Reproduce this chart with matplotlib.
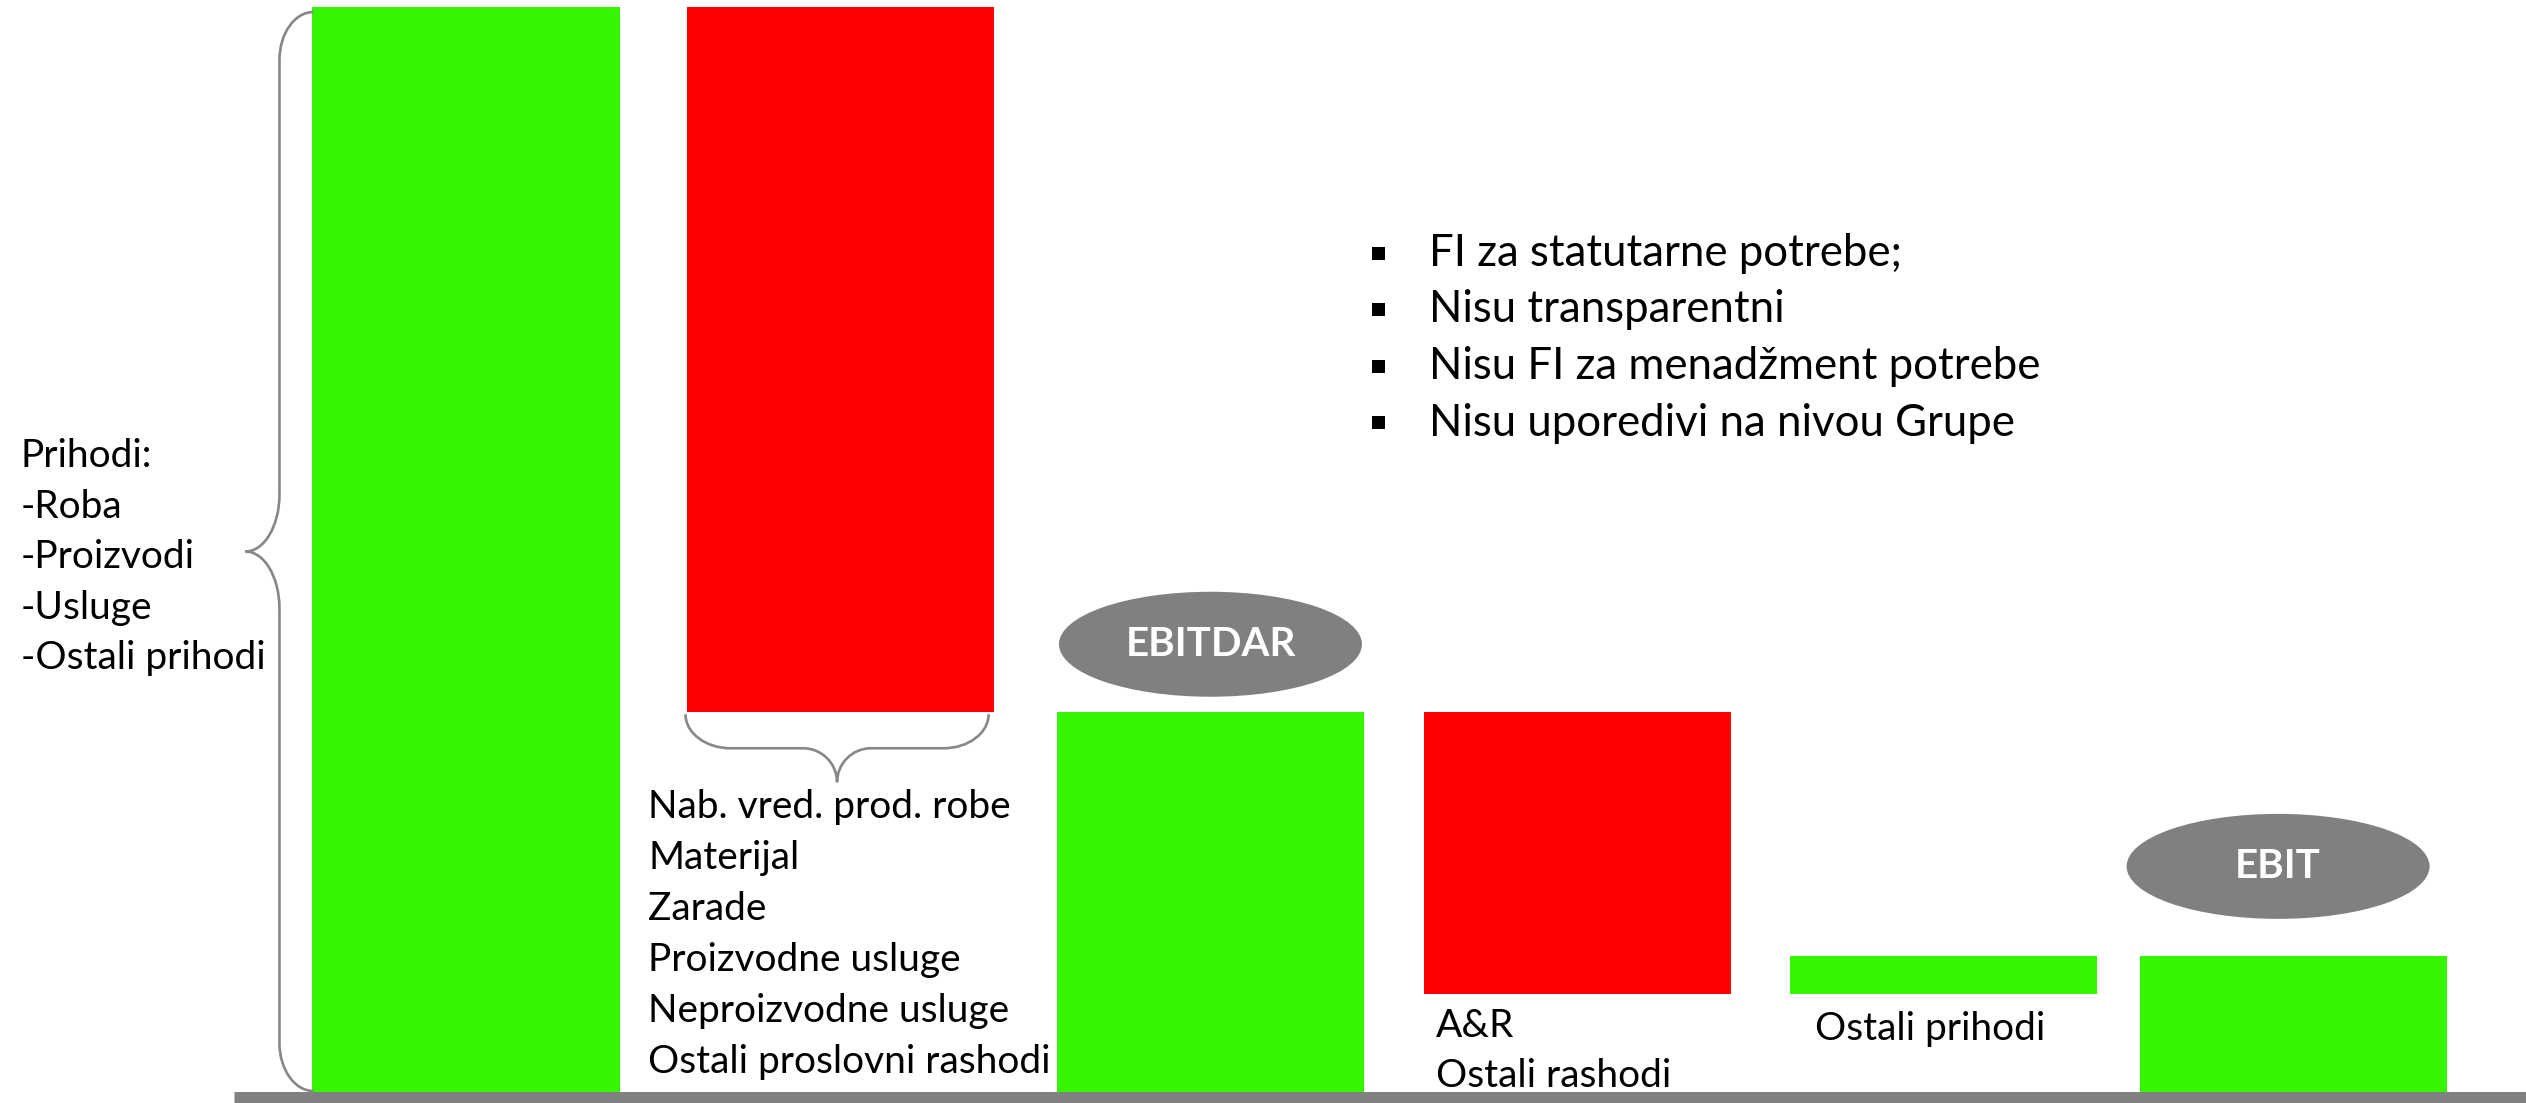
import numpy as np
import matplotlib
matplotlib.use("Agg")
import matplotlib.pyplot as plt
from matplotlib.path import Path
from matplotlib.patches import PathPatch, Ellipse, Rectangle
from matplotlib.transforms import IdentityTransform

plt.rcParams['font.family'] = ['Lato', 'DejaVu Sans']

# waterfall, revenue = 100
steps = ['Prihodi', 'Poslovni rashodi', 'EBITDAR', 'A&R', 'Ostali prihodi', 'EBIT']
kinds = ['total', 'delta', 'subtotal', 'delta', 'delta', 'subtotal']
values = [100, -65, 35, -26, 3.5, 12.5]

rev_items = ['Prihodi:', '-Roba', '-Proizvodi', '-Usluge', '-Ostali prihodi']
cost_items = ['Nab. vred. prod. robe', 'Materijal', 'Zarade', 'Proizvodne usluge',
              'Neproizvodne usluge', 'Ostali proslovni rashodi']
ar_items = ['A&R', 'Ostali rashodi']
other_items = ['Ostali prihodi']
notes = ['FI za statutarne potrebe;', 'Nisu transparentni',
         'Nisu FI za menadžment potrebe', 'Nisu uporedivi na nivou Grupe']
badges = {2: 'EBITDAR', 5: 'EBIT'}

GREEN = '#35F500'
RED = '#FF0000'
GRAY = '#808080'
BRACE = '#878787'

W, H = 2526, 1103
fig = plt.figure(figsize=(W / 100, H / 100), dpi=100)
ax = fig.add_axes([0, 0, 1, 1])
ax.set_xlim(-1.2732, 5.6284)
ax.set_ylim(-1.014, 100.645)
ax.axis('off')

# bar layout (slightly uneven spacing as in the slide)
x_pos = np.array([0, 1.022, 2.034, 3.036, 4.036, 4.992])
bw = 0.839

bottoms, heights, colors = [], [], []
running = 0
for k, v in zip(kinds, values):
    if k == 'delta':
        bottoms.append(running + min(v, 0))
        heights.append(abs(v))
        running += v
    else:
        running = v
        bottoms.append(0)
        heights.append(v)
    colors.append(GREEN if v > 0 else RED)

bars = ax.bar(x_pos, heights, bottom=bottoms, width=bw, color=colors, linewidth=0, zorder=2)

# base line
ax.axhline(-0.507, xmin=234 / W, color=GRAY, lw=7.9, solid_capstyle='butt', zorder=3)

fig.canvas.draw()
to_px = ax.transData.transform

K = 0.5523


def brace(origin, u, v, L, D, e, c):
    h, m = D / 2, L / 2
    st = [(0, 0),
          (0, K * h), (e * (1 - K), h), (e, h),
          (m - c, h),
          (m - c * (1 - K), h), (m, D - K * h), (m, D),
          (m, D - K * h), (m + c * (1 - K), h), (m + c, h),
          (L - e, h),
          (L - e * (1 - K), h), (L, K * h), (L, 0)]
    codes = [Path.MOVETO] + [Path.CURVE4] * 3 + [Path.LINETO] + [Path.CURVE4] * 6 \
        + [Path.LINETO] + [Path.CURVE4] * 3
    o, u, v = np.array(origin), np.array(u), np.array(v)
    pts = [o + s * u + t * v for s, t in st]
    fig.add_artist(PathPatch(Path(pts, codes), fill=False, edgecolor=BRACE, lw=1.9,
                             transform=IdentityTransform(), zorder=4))


# brace left of revenue bar
x0 = x_pos[0] - bw / 2
lx, ty = to_px((x0, bottoms[0] + heights[0]))
_, by = to_px((x0, 0))
brace((lx + 1, ty - 5), (0, -1), (-1, 0), (ty - 5) - (by + 1), 68, 48, 57)

# brace under cost bar
cl, cb = to_px((x_pos[1] - bw / 2, bottoms[1]))
cr, _ = to_px((x_pos[1] + bw / 2, bottoms[1]))
brace((cl - 1, cb - 2), (1, 0), (0, -1), (cr - 5) - (cl - 1), 68, 45, 34)

# grey badges above subtotal bars
badge_off = {2: (0, 68), 5: (-15, 90)}
for i, name in badges.items():
    bx, btop = to_px((x_pos[i], bottoms[i] + heights[i]))
    dx, dy = badge_off[i]
    cx, cy = bx + dx, btop + dy
    fig.add_artist(Ellipse((cx, cy), 303, 105, facecolor=GRAY, edgecolor='none',
                           transform=IdentityTransform(), zorder=5))
    fig.text(cx / W, cy / H, name, color='white', fontsize=29, fontweight='bold',
             ha='center', va='center', zorder=6)


def lines(items, x, y0, step, size=28):
    for j, s in enumerate(items):
        fig.text(x / W, 1 - (y0 + j * step) / H, s, fontsize=size, color='black',
                 ha='left', va='baseline')


lines(rev_items, 21, 467, 50.5)
lines(cost_items, 648, 818, 51)
lines(ar_items, 1436, 1037, 50)
lines(other_items, 1815, 1040, 50)
lines(notes, 1429, 266, 56.5, size=31.5)
for j in range(len(notes)):
    yc = 266 + j * 56.5 - 13
    fig.add_artist(Rectangle((1372, H - yc - 6.5), 13, 13, facecolor='black',
                             edgecolor='none', transform=IdentityTransform()))

fig.savefig('out.png', dpi=100)
